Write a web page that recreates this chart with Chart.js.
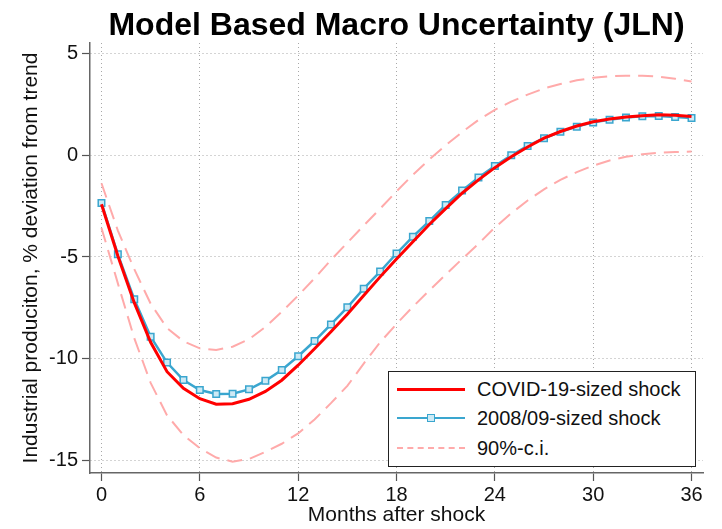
<!DOCTYPE html>
<html>
<head>
<meta charset="utf-8">
<script src="https://cdn.jsdelivr.net/npm/chart.js@4/dist/chart.umd.min.js"></script>
<style>
  html, body { margin: 0; padding: 0; background: #fff; }
  #wrap { position: relative; width: 722px; height: 529px; }
  #legend {
    position: absolute; left: 388px; top: 371px; width: 306px; height: 94px;
    border: 1.5px solid #222; background: #fff;
    font-family: "Liberation Sans", Arial, sans-serif; font-size: 20px; color: #111;
  }
  .row { position: absolute; left: 0; height: 24px; display: flex; align-items: center; }
  .swatch { position: relative; width: 68px; margin-left: 8px; margin-right: 12px; height: 12px; }
  .swatch .ln { position: absolute; left: 0; right: 0; top: 5px; }
  .swatch .pt { position: absolute; left: 30px; top: 2px; width: 6px; height: 6px;
                border: 1.5px solid #3aa6cf; background: #cdeaf5; }
</style>
</head>
<body>
<div id="wrap">
  <canvas id="chart" width="722" height="529"></canvas>
  <div id="legend">
    <div class="row" style="top:5px"><div class="swatch"><div class="ln" style="border-top:3px solid #ff0000"></div></div>COVID-19-sized shock</div>
    <div class="row" style="top:34px"><div class="swatch"><div class="ln" style="border-top:2.5px solid #3aa6cf"></div><div class="pt"></div></div>2008/09-sized shock</div>
    <div class="row" style="top:64px"><div class="swatch"><div class="ln" style="border-top:2px dashed #ffaaaa"></div></div>90%-c.i.</div>
  </div>
</div>
<script>
const months = [0, 1, 2, 3, 4, 5, 6, 7, 8, 9, 10, 11, 12, 13, 14, 15, 16, 17, 18,
    19, 20, 21, 22, 23, 24, 25, 26, 27, 28, 29, 30, 31, 32, 33, 34, 35, 36];
const covidShock = [-2.4, -4.95, -7.25, -9.2, -10.65, -11.47, -11.98, -12.25, -12.23, -12.01,
    -11.62, -11.07, -10.33, -9.52, -8.68, -7.82, -6.9, -5.98, -5.1, -4.25, -3.4, -2.62, -1.86,
    -1.2, -0.6, -0.06, 0.42, 0.85, 1.18, 1.45, 1.66, 1.8, 1.9, 1.96, 2.0, 1.98, 1.92];
const gfcShock = [-2.34, -4.87, -7.08, -8.93, -10.2, -11.06, -11.55, -11.75, -11.74, -11.52,
    -11.1, -10.57, -9.89, -9.14, -8.32, -7.48, -6.56, -5.72, -4.83, -4.0, -3.23, -2.44, -1.73,
    -1.09, -0.52, 0.01, 0.47, 0.85, 1.17, 1.42, 1.63, 1.76, 1.87, 1.93, 1.94, 1.9, 1.84];
const ciUpper = [-1.37, -3.7, -5.6, -7.3, -8.5, -9.15, -9.5, -9.58, -9.42, -9.05, -8.45, -7.7,
    -6.9, -6.05, -5.15, -4.3, -3.45, -2.62, -1.77, -0.95, -0.2, 0.5, 1.15, 1.75, 2.25, 2.65,
    3.0, 3.3, 3.52, 3.7, 3.83, 3.9, 3.93, 3.93, 3.88, 3.78, 3.64];
const ciLower = [-3.57, -6.3, -9.0, -11.2, -12.8, -13.77, -14.42, -14.88, -15.08, -14.95, -14.6,
    -14.2, -13.69, -13.0, -12.2, -11.35, -10.25, -9.2, -8.3, -7.45, -6.65, -5.87, -5.1, -4.35,
    -3.55, -2.85, -2.22, -1.67, -1.2, -0.82, -0.5, -0.25, -0.06, 0.06, 0.13, 0.17, 0.19];
const xTicks = [0, 6, 12, 18, 24, 30, 36];
const yTicks = [-15, -10, -5, 0, 5];

const pts = arr => arr.map((v, i) => ({ x: months[i], y: v }));
const ciStyle = {
    borderColor: '#ffaaaa', borderWidth: 2, borderDash: [15, 8],
    pointRadius: 0, fill: false, order: 2
};
const font = { family: '"Liberation Sans", Arial, sans-serif', size: 20 };
const titleFont = { family: '"Liberation Sans", Arial, sans-serif', size: 21 };

new Chart(document.getElementById('chart'), {
    type: 'line',
    data: {
        datasets: [
            { label: 'COVID-19-sized shock', data: pts(covidShock), borderColor: '#ff0000',
              borderWidth: 3, pointRadius: 0, order: 0 },
            { label: '2008/09-sized shock', data: pts(gfcShock), borderColor: '#3aa6cf',
              borderWidth: 2.5, pointStyle: 'rect', pointRadius: 4.6, pointBorderWidth: 1.5,
              pointBorderColor: '#3aa6cf', pointBackgroundColor: '#cdeaf5', order: 1 },
            Object.assign({ label: '90%-c.i.', data: pts(ciUpper) }, ciStyle),
            Object.assign({ label: '90%-c.i. lower', data: pts(ciLower) }, ciStyle)
        ]
    },
    options: {
        responsive: false,
        animation: false,
        layout: { padding: { right: 19 } },
        plugins: {
            legend: { display: false },
            tooltip: { enabled: false },
            title: {
                display: true, fullSize: false,
                text: 'Model Based Macro Uncertainty (JLN)',
                color: '#000',
                font: { family: '"Liberation Sans", Arial, sans-serif', size: 32, weight: 'bold', lineHeight: 1.0625 },
                padding: { top: 9, bottom: 0 }
            }
        },
        scales: {
            x: {
                type: 'linear', min: -0.7, max: 36.7,
                afterBuildTicks: s => { s.ticks = xTicks.map(v => ({ value: v })); },
                afterFit: s => { s.height = 56; },
                ticks: { color: '#111', font: font, padding: 2, maxRotation: 0 },
                grid: { color: '#a8a8a8', lineWidth: 1, tickLength: 8, tickColor: '#555', tickWidth: 1.2 },
                border: { color: '#666', width: 1.5, dash: [1, 3] },
                title: { display: true, text: 'Months after shock', color: '#111',
                         font: titleFont, padding: { top: 0, bottom: 1 } }
            },
            y: {
                min: -15.64, max: 5.54,
                afterBuildTicks: s => { s.ticks = yTicks.map(v => ({ value: v })); },
                afterFit: s => { s.width = 90; },
                ticks: { color: '#111', font: font, padding: 4 },
                grid: { color: '#a8a8a8', lineWidth: 1, tickLength: 8, tickColor: '#555', tickWidth: 1.2 },
                border: { color: '#666', width: 1.5, dash: [1, 3] },
                title: { display: true, text: 'Industrial produciton, % deviation from trend',
                         color: '#111', font: titleFont, padding: { top: 19, bottom: 0 } }
            }
        }
    }
});
</script>
</body>
</html>
